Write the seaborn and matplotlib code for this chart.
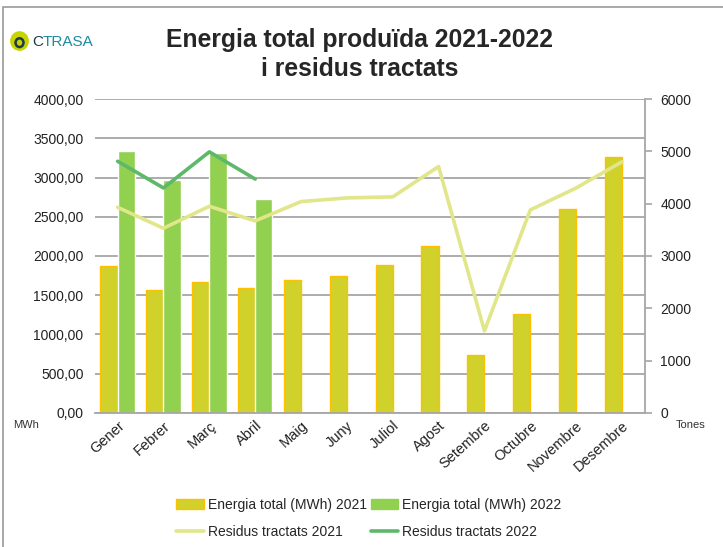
import numpy as np
import pandas as pd
import matplotlib
matplotlib.use("Agg")
import matplotlib.pyplot as plt
import matplotlib.patches as mpatches
from matplotlib.lines import Line2D
import seaborn as sns

months = ["Gener", "Febrer", "Març", "Abril", "Maig", "Juny", "Juliol",
          "Agost", "Setembre", "Octubre", "Novembre", "Desembre"]
energia_2021 = [1870, 1570, 1670, 1590, 1690, 1750, 1890, 2130, 740, 1260, 2600, 3260]
energia_2022 = [3340, 2970, 3310, 2720, np.nan, np.nan, np.nan, np.nan, np.nan, np.nan, np.nan, np.nan]
residus_2021 = [3930, 3530, 3950, 3670, 4040, 4110, 4130, 4710, 1570, 3880, 4300, 4800]
residus_2022 = [4810, 4300, 4990, 4470]

c_bar21 = "#D0D12A"
c_edge21 = "#FFC000"
c_bar22 = "#92D050"
c_line21 = "#E2E68A"
c_line22 = "#5DB86A"

sns.set_style("white")
plt.rcParams["font.family"] = ["Liberation Sans", "DejaVu Sans"]

df_bars = pd.DataFrame({
    "mes": months * 2,
    "energia": energia_2021 + energia_2022,
    "serie": ["Energia total (MWh) 2021"] * 12 + ["Energia total (MWh) 2022"] * 12,
})
df21 = pd.DataFrame({"idx": np.arange(len(months)), "res": residus_2021})
df22 = pd.DataFrame({"idx": np.arange(len(residus_2022)), "res": residus_2022})

fig = plt.figure(figsize=(7.23, 5.47), dpi=100)
ax = fig.add_axes([0.131, 0.245, 0.761, 0.574])

sns.barplot(data=df_bars, x="mes", y="energia", hue="serie", order=months,
            palette=[c_bar21, c_bar22], width=0.75, ax=ax, legend=False,
            saturation=1)
for p in ax.patches[:12]:
    p.set_edgecolor(c_edge21)
    p.set_linewidth(1.0)
ax.set_ylim(0, 4000)
ax.set_yticks(np.arange(0, 4001, 500))
ax.set_yticklabels([f"{v:.2f}".replace(".", ",") for v in np.arange(0, 4001, 500)],
                   fontsize=10, color="#222222")
ax.grid(axis="y", color="#A6A6A6", linewidth=1.3)
ax.set_axisbelow(True)
ax.set_xlabel("")
ax.set_ylabel("")
for s in ["left", "top", "right"]:
    ax.spines[s].set_visible(False)
ax.spines["bottom"].set_color("#A6A6A6")
ax.spines["bottom"].set_linewidth(1.3)
ax.tick_params(axis="y", length=0, pad=8)
ax.tick_params(axis="x", length=0, pad=4)
ax.set_xticks(range(12))
ax.set_xticklabels(months, rotation=42, ha="right", rotation_mode="anchor",
                   fontsize=10.5, color="#222222")
ax.set_xlim(-0.5, 11.5)

ax2 = ax.twinx()
sns.lineplot(data=df21, x="idx", y="res", color=c_line21, linewidth=2.6, ax=ax2)
sns.lineplot(data=df22, x="idx", y="res", color=c_line22, linewidth=2.6, ax=ax2)
ax2.set_ylim(0, 6000)
ax2.set_yticks(np.arange(0, 6001, 1000))
ax2.set_yticklabels([str(v) for v in range(0, 6001, 1000)], fontsize=10, color="#222222")
ax2.set_xlim(-0.5, 11.5)
ax2.set_xlabel("")
ax2.set_ylabel("")
for s in ["left", "top", "bottom"]:
    ax2.spines[s].set_visible(False)
ax2.spines["right"].set_color("#A6A6A6")
ax2.spines["right"].set_linewidth(1.3)
ax2.tick_params(axis="y", length=5, color="#A6A6A6", width=1.2, pad=6)

fig.text(0.497, 0.926, "Energia total produïda 2021-2022", ha="center", va="center",
         fontsize=17.8, fontweight="bold")
fig.text(0.497, 0.874, "i residus tractats", ha="center", va="center",
         fontsize=17.8, fontweight="bold")

fig.text(0.036, 0.223, "MWh", fontsize=8, color="#333333", va="center", ha="center")
fig.text(0.955, 0.223, "Tones", fontsize=8, color="#333333", va="center", ha="center")

# logo
fig.patches.append(mpatches.Ellipse((0.027, 0.925), 0.026, 0.036, transform=fig.transFigure,
                                    facecolor="#C8D400", edgecolor="none"))
fig.patches.append(mpatches.Ellipse((0.027, 0.922), 0.011, 0.016, transform=fig.transFigure,
                                    facecolor="none", edgecolor="#1F3A4D", linewidth=1.8))
fig.text(0.045, 0.924, "C", fontsize=11, color="#1F3A4D", va="center", ha="left")
fig.text(0.0595, 0.924, "TRASA", fontsize=11, color="#1D8A9E", va="center", ha="left")

# frame
fig.patches.append(mpatches.Rectangle((0.004, -0.01), 1.0, 0.997, transform=fig.transFigure,
                                      facecolor="none", edgecolor="#9A9A9A", linewidth=1.2))

handles = [
    mpatches.Patch(facecolor=c_bar21, edgecolor=c_edge21, label="Energia total (MWh) 2021"),
    Line2D([0], [0], color=c_line21, linewidth=2.6, label="Residus tractats 2021"),
    mpatches.Patch(facecolor=c_bar22, edgecolor=c_bar22, label="Energia total (MWh) 2022"),
    Line2D([0], [0], color=c_line22, linewidth=2.6, label="Residus tractats 2022"),
]
fig.legend(handles=handles, ncol=2, loc="center", bbox_to_anchor=(0.51, 0.052),
           frameon=False, fontsize=10, handlelength=2.0, handletextpad=0.25,
           columnspacing=0.3, labelspacing=0.95)

fig.savefig("out.png", dpi=100)
